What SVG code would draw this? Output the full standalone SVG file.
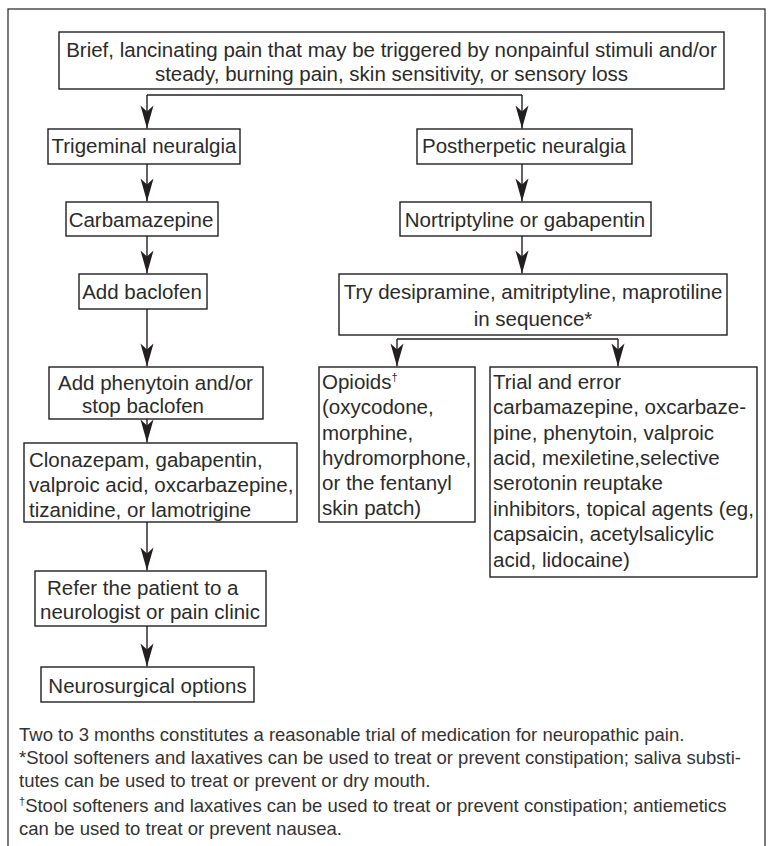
<svg xmlns="http://www.w3.org/2000/svg" width="768" height="846" viewBox="0 0 768 846">
<defs>
<style>
.box{fill:#fff;stroke:#231f20;stroke-width:1.4}
.t{font-family:"Liberation Sans",Arial,sans-serif;font-size:20.5px;fill:#2b2b2b}
.c{text-anchor:middle}
.f{font-family:"Liberation Sans",Arial,sans-serif;font-size:18.5px;fill:#333}
.ln{fill:none;stroke:#231f20;stroke-width:1.4}
.sup{font-size:11px}
</style>
<marker id="ah" viewBox="-24 -7 26 14" refX="0" refY="0" markerWidth="26" markerHeight="14" markerUnits="userSpaceOnUse" orient="auto">
<path d="M0,0 L-23,-6.5 L-17,0 L-23,6.5 Z" fill="#231f20"/>
</marker>
</defs>
<rect width="768" height="846" fill="#fff"/>
<rect x="8" y="9" width="757" height="870" fill="none" stroke="#333" stroke-width="1.3"/>

<g id="connectors">
<path class="ln" d="M147,95 H522"/>
<path class="ln" d="M147,95 V128.5" marker-end="url(#ah)"/>
<path class="ln" d="M522,95 V128.5" marker-end="url(#ah)"/>
<path class="ln" d="M147,164 V201.5" marker-end="url(#ah)"/>
<path class="ln" d="M147,236 V273.5" marker-end="url(#ah)"/>
<path class="ln" d="M147,309 V366.5" marker-end="url(#ah)"/>
<path class="ln" d="M147,419 V442.5" marker-end="url(#ah)"/>
<path class="ln" d="M147,522 V570.5" marker-end="url(#ah)"/>
<path class="ln" d="M147,626 V666.5" marker-end="url(#ah)"/>
<path class="ln" d="M522,164 V201.5" marker-end="url(#ah)"/>
<path class="ln" d="M522,236 V273.5" marker-end="url(#ah)"/>
<path class="ln" d="M397,339 H618"/>
<path class="ln" d="M397,339 V366.5" marker-end="url(#ah)"/>
<path class="ln" d="M618,339 V366.5" marker-end="url(#ah)"/>
</g>

<g id="n-top">
<rect class="box" x="59" y="32" width="665" height="57"/>
<text class="t c" x="391.5" y="56.5">Brief, lancinating pain that may be triggered by nonpainful stimuli and/or</text>
<text class="t c" x="391.5" y="80.5">steady, burning pain, skin sensitivity, or sensory loss</text>
</g>
<g id="n-trigeminal">
<rect class="box" x="48" y="129" width="192" height="35"/>
<text class="t c" x="144" y="153">Trigeminal neuralgia</text>
</g>
<g id="n-postherpetic">
<rect class="box" x="417" y="129" width="215" height="35"/>
<text class="t c" x="524" y="153">Postherpetic neuralgia</text>
</g>
<g id="n-carbamazepine">
<rect class="box" x="66" y="202" width="152" height="34"/>
<text class="t c" x="141" y="227">Carbamazepine</text>
</g>
<g id="n-nortriptyline">
<rect class="box" x="400" y="202" width="251" height="34"/>
<text class="t c" x="525" y="227">Nortriptyline or gabapentin</text>
</g>
<g id="n-baclofen">
<rect class="box" x="79" y="274" width="128" height="35"/>
<text class="t c" x="142" y="299">Add baclofen</text>
</g>
<g id="n-desipramine">
<rect class="box" x="339" y="274" width="388" height="61"/>
<text class="t c" x="533" y="299">Try desipramine, amitriptyline, maprotiline</text>
<text class="t c" x="533" y="326">in sequence*</text>
</g>
<g id="n-phenytoin">
<rect class="box" x="49" y="367" width="214" height="52"/>
<text class="t" x="58" y="390">Add phenytoin and/or</text>
<text class="t" x="82" y="413">stop baclofen</text>
</g>
<g id="n-clonazepam">
<rect class="box" x="24" y="443" width="273" height="79"/>
<text class="t" x="29" y="467">Clonazepam, gabapentin,</text>
<text class="t" x="29" y="492">valproic acid, oxcarbazepine,</text>
<text class="t" x="29" y="517">tizanidine, or lamotrigine</text>
</g>
<g id="n-opioids">
<rect class="box" x="319" y="367" width="156" height="155"/>
<text class="t" x="322" y="389">Opioids<tspan class="sup" dy="-8">†</tspan></text>
<text class="t" x="322" y="414">(oxycodone,</text>
<text class="t" x="322" y="439.5">morphine,</text>
<text class="t" x="322" y="465">hydromorphone,</text>
<text class="t" x="322" y="490">or the fentanyl</text>
<text class="t" x="322" y="515">skin patch)</text>
</g>
<g id="n-trial">
<rect class="box" x="490" y="367" width="267" height="210"/>
<text class="t" x="493" y="389">Trial and error</text>
<text class="t" x="493" y="414">carbamazepine, oxcarbaze-</text>
<text class="t" x="493" y="439.5">pine, phenytoin, valproic</text>
<text class="t" x="493" y="465">acid, mexiletine,selective</text>
<text class="t" x="493" y="490">serotonin reuptake</text>
<text class="t" x="493" y="515.5">inhibitors, topical agents (eg,</text>
<text class="t" x="493" y="541">capsaicin, acetylsalicylic</text>
<text class="t" x="493" y="566.5">acid, lidocaine)</text>
</g>
<g id="n-refer">
<rect class="box" x="35" y="571" width="231" height="55"/>
<text class="t" x="47" y="595">Refer the patient to a</text>
<text class="t" x="40" y="619">neurologist or pain clinic</text>
</g>
<g id="n-neurosurgical">
<rect class="box" x="41" y="667" width="213" height="35"/>
<text class="t c" x="147.5" y="693">Neurosurgical options</text>
</g>

<g id="footnotes">
<text class="f" x="19" y="741">Two to 3 months constitutes a reasonable trial of medication for neuropathic pain.</text>
<text class="f" x="19" y="764">*Stool softeners and laxatives can be used to treat or prevent constipation; saliva substi-</text>
<text class="f" x="19" y="787">tutes can be used to treat or prevent or dry mouth.</text>
<text class="f" x="19" y="812"><tspan class="sup" dy="-7">†</tspan><tspan dy="7">Stool softeners and laxatives can be used to treat or prevent constipation; antiemetics</tspan></text>
<text class="f" x="19" y="835">can be used to treat or prevent nausea.</text>
</g>
</svg>
